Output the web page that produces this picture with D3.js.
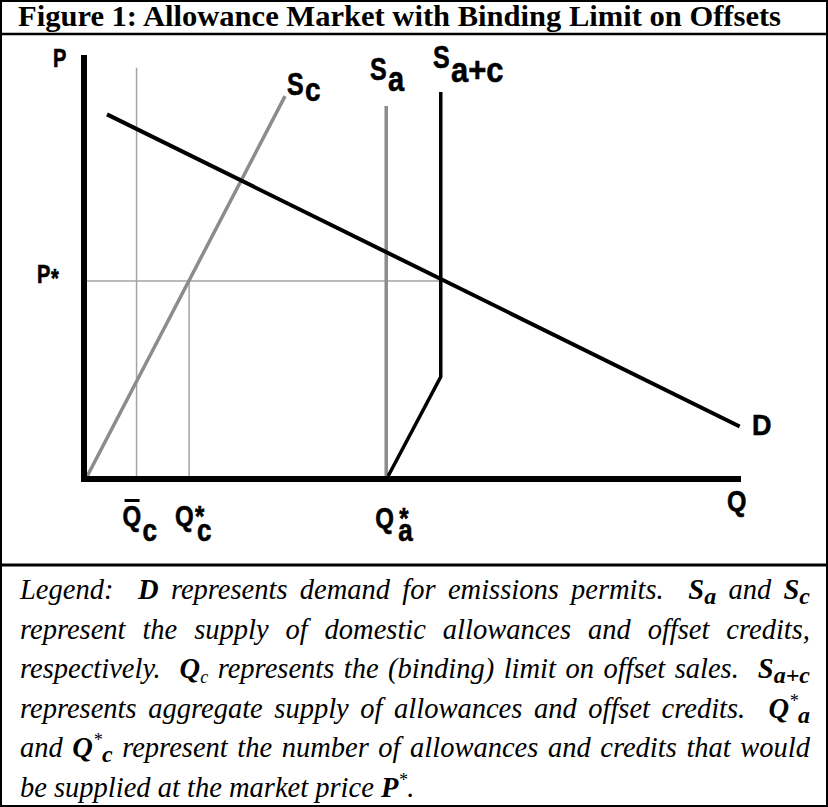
<!DOCTYPE html>
<html>
<head>
<meta charset="utf-8">
<script src="https://cdn.jsdelivr.net/npm/d3@7"></script>
<style>
  body { margin: 0; background: #fff; }
  svg { display: block; }
  .lbl { font-family: "Liberation Sans", Arial, sans-serif; font-weight: bold; fill: #000; stroke: #000; stroke-width: 0.5; }
  .leg { font-family: "Liberation Serif", "Times New Roman", serif; font-style: italic; font-size: 28.5px; white-space: pre; fill: #000; }
</style>
</head>
<body>
<svg width="828" height="807"></svg>
<script>
var svg = d3.select("svg"),
    width = +svg.attr("width"),
    height = +svg.attr("height");

// curves in chart units (Q across, P up)
var demand   = [[3.5, 86.0], [99.8, 12.4]];
var supplyC  = [[0.5, 0.7], [30.6, 90.3]];
var supplyA  = [[46, 0], [46, 88]];
var supplyAC = [[46.3, 0.7], [54.3, 24.1], [54.3, 91.3]];

// guide positions
var qBar = 8, qBarTop = 97;
var qStarC = 16, qStarA = 46;
var pStar = 46.7;

var title = "Figure 1: Allowance Market with Binding Limit on Offsets";

// legend text, one array per line: [text, style]
var legendLines = [
  [["Legend:  "], ["D", "b"], [" represents demand for emissions permits.  "], ["S", "b"], ["a", "bsub"], [" and "], ["S", "b"], ["c", "bsub"]],
  [["represent the supply of domestic allowances and offset credits,"]],
  [["respectively.  "], ["Q", "b"], ["c", "sub"], [" represents the (binding) limit on offset sales.  "], ["S", "b"], ["a+c", "bsub"]],
  [["represents aggregate supply of allowances and offset credits.  "], ["Q", "b"], ["*", "sup"], ["a", "bsub"]],
  [["and "], ["Q", "b"], ["*", "sup"], ["c", "bsub"], [" represent the number of allowances and credits that would"]],
  [["be supplied at the market price "], ["P", "b"], ["*", "sup"], ["."]]
];

var x = d3.scaleLinear().domain([0, 100]).range([84, 741]);
var y = d3.scaleLinear().domain([0, 100]).range([479, 55]);
var line = d3.line().x(function(d) { return x(d[0]); }).y(function(d) { return y(d[1]); });

// frame
svg.append("rect").attr("x", 1).attr("y", 1).attr("width", width - 2).attr("height", height - 2)
  .attr("fill", "none").attr("stroke", "#000").attr("stroke-width", 2);
svg.append("line").attr("x1", 0).attr("x2", width).attr("y1", 34).attr("y2", 34)
  .attr("stroke", "#000").attr("stroke-width", 2.5);
svg.append("line").attr("x1", 0).attr("x2", width).attr("y1", 565).attr("y2", 565)
  .attr("stroke", "#000").attr("stroke-width", 3);

svg.append("text")
  .attr("x", 18).attr("y", 26)
  .attr("textLength", 763).attr("lengthAdjust", "spacingAndGlyphs")
  .style("font-family", "'Liberation Serif', 'Times New Roman', serif")
  .style("font-weight", "bold").style("font-size", "30px")
  .text(title);

// guides
var guides = svg.append("g").attr("stroke", "#a3a3a3").attr("stroke-width", 1.5);
guides.append("line").attr("x1", x(qBar)).attr("x2", x(qBar)).attr("y1", y(0)).attr("y2", y(qBarTop));
guides.append("line").attr("x1", x(qStarC)).attr("x2", x(qStarC)).attr("y1", y(0)).attr("y2", y(pStar));
guides.append("line").attr("x1", x(0)).attr("x2", x(supplyAC[2][0])).attr("y1", y(pStar)).attr("y2", y(pStar));

// curves
var curves = [
  { pts: supplyC, color: "#8c8c8c", w: 3.5 },
  { pts: supplyA, color: "#8c8c8c", w: 3.5 },
  { pts: supplyAC, color: "#000", w: 3.5 },
  { pts: demand, color: "#000", w: 4 }
];
svg.append("g").selectAll("path")
  .data(curves)
  .enter().append("path")
  .attr("d", function(d) { return line(d.pts); })
  .attr("fill", "none")
  .attr("stroke", function(d) { return d.color; })
  .attr("stroke-width", function(d) { return d.w; })
  .attr("stroke-linejoin", "miter");

// axes
svg.append("line").attr("x1", x(0)).attr("x2", x(0)).attr("y1", y(100)).attr("y2", y(0) + 3)
  .attr("stroke", "#000").attr("stroke-width", 6);
svg.append("line").attr("x1", x(0) - 3).attr("x2", x(100)).attr("y1", y(0)).attr("y2", y(0))
  .attr("stroke", "#000").attr("stroke-width", 6);

// labels
function lab(px, py, txt, size, sy) {
  return svg.append("text").attr("class", "lbl")
    .attr("transform", "translate(" + px + "," + py + ") scale(1," + sy + ")")
    .style("font-size", size + "px")
    .text(txt);
}

lab(53, 67, "P", 20, 1.25);
lab(37, 283, "P", 20, 1.25);
lab(51, 287, "*", 20, 1.25);

lab(287, 95, "S", 25, 1.25);
lab(305, 101, "c", 28, 1.2);
lab(370, 80, "S", 25, 1.25);
lab(388, 91, "a", 29, 1.2);
lab(433, 68, "S", 25, 1.25);
lab(451, 82, "a+c", 31, 1.15);

lab(x(qBar) - 14, 526, "Q", 24, 1.2);
svg.append("rect").attr("x", x(qBar) - 12).attr("y", 499).attr("width", 15).attr("height", 3).attr("fill", "#000");
lab(x(qBar) + 6, 541, "c", 26, 1.2);

lab(x(qStarC) - 14, 526, "Q", 24, 1.2);
lab(x(qStarC) + 6, 526, "*", 24, 1.2);
lab(x(qStarC) + 8, 541, "c", 26, 1.2);

lab(x(qStarA) - 11, 528, "Q", 24, 1.2);
lab(x(qStarA) + 13, 528, "*", 24, 1.2);
lab(x(qStarA) + 12, 541, "a", 26, 1.2);

lab(727, 511, "Q", 25, 1.2);
lab(752, 435, "D", 27, 1.1);

// legend, justified lines
var legLeft = 20, legRight = 810;
legendLines.forEach(function(runs, i) {
  var t = svg.append("text").attr("class", "leg")
    .attr("x", legLeft).attr("y", 599 + i * 39.6);
  var shift = 0, spaces = 0;
  runs.forEach(function(r) {
    var s = r[1] || "", want = 0;
    var ts = t.append("tspan").text(r[0]);
    if (s === "b" || s === "bsub") ts.style("font-weight", "bold");
    if (s === "bsub" || s === "sub") { want = 5; ts.style("font-size", s === "sub" ? "18px" : "24px"); }
    if (s === "sup") { want = -11; ts.style("font-size", "18px"); }
    if (want !== shift) { ts.attr("dy", want - shift); shift = want; }
    spaces += (r[0].match(/ /g) || []).length;
  });
  if (i < legendLines.length - 1) {
    var natural = t.node().getComputedTextLength();
    t.style("word-spacing", ((legRight - legLeft - natural) / spaces) + "px");
  }
});
</script>
</body>
</html>
